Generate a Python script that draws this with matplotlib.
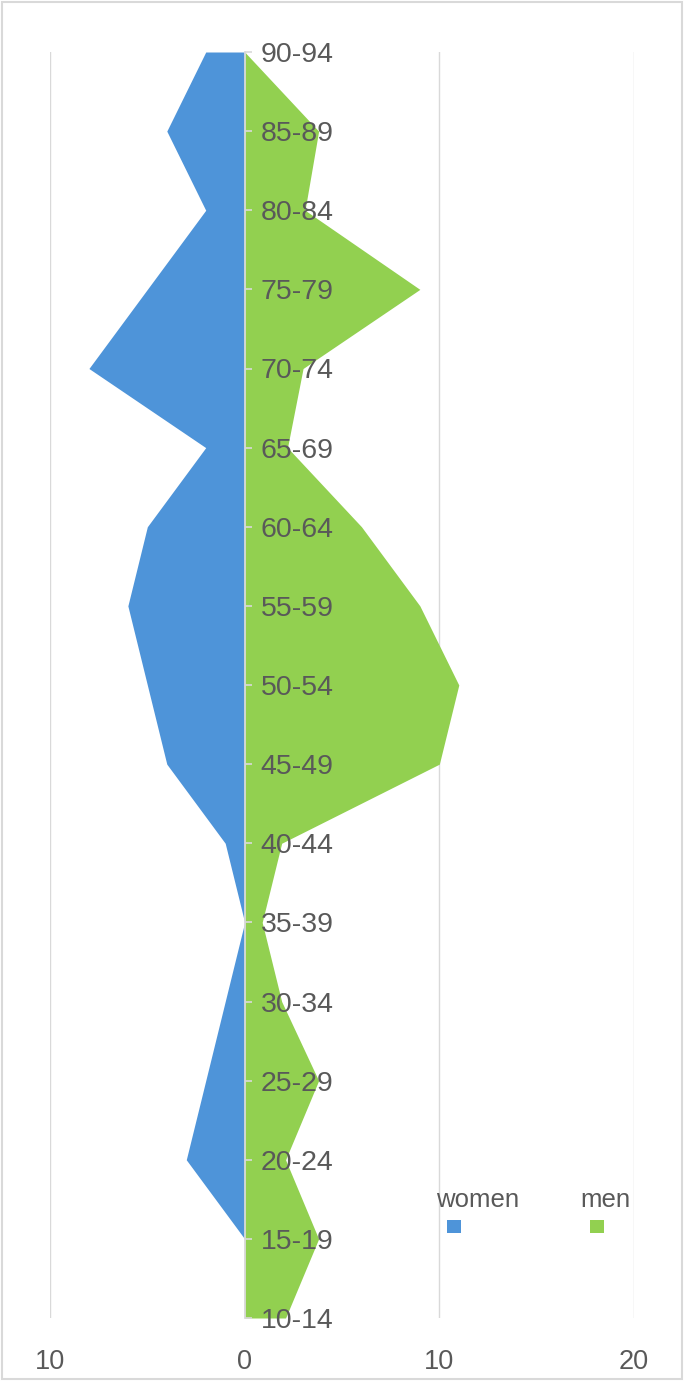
import numpy as np
import matplotlib
matplotlib.use('Agg')
import matplotlib.pyplot as plt
from matplotlib.patches import Rectangle
from matplotlib.ticker import FuncFormatter

plt.rcParams['font.family'] = ['Liberation Sans', 'DejaVu Sans']

# ---- data (bottom to top) ----
age_groups = ['10-14', '15-19', '20-24', '25-29', '30-34', '35-39', '40-44',
              '45-49', '50-54', '55-59', '60-64', '65-69', '70-74', '75-79',
              '80-84', '85-89', '90-94']
women = [0, 0, 3, 2, 1, 0, 1, 4, 5, 6, 5, 2, 8, 5, 2, 4, 2]
men = [2.1, 3.8, 2.1, 3.8, 1.9, 0.9, 1.9, 10, 11, 9, 6, 2.2, 3, 9, 3.1, 3.8, 0]
x_ticks = [-10, 0, 10, 20]

BLUE = '#4e94d9'
GREEN = '#92d050'
GRID = '#d9d9d9'
TEXT = '#595959'

W, H = 684, 1381
fig = plt.figure(figsize=(W / 100, H / 100), dpi=100)
ax = fig.add_axes([50 / W, 63 / H, 584 / W, 1266 / H])

# vertical gridlines, kept under the areas
for xv in x_ticks:
    ax.axvline(xv, color=GRID, linewidth=1.0, zorder=0)

y = np.arange(len(age_groups))
ax.fill_betweenx(y, -np.array(women), 0, color=BLUE, linewidth=0, zorder=1)
ax.fill_betweenx(y, 0, np.array(men), color=GREEN, linewidth=0, zorder=1)

ax.set_xlim(-10, 20)
ax.set_ylim(0, len(age_groups) - 1)

ax.set_xticks(x_ticks)
ax.xaxis.set_major_formatter(FuncFormatter(lambda v, p: f'{abs(int(v))}'))
ax.tick_params(axis='x', length=0, pad=22, labelsize=19.5, labelcolor=TEXT)

# category axis sitting at x = 0, labels to the right
for s in ['left', 'top', 'bottom']:
    ax.spines[s].set_visible(False)
ax.spines['right'].set_position(('data', 0))
ax.spines['right'].set_color(GRID)
ax.spines['right'].set_linewidth(1.3)
ax.yaxis.tick_right()
ax.set_yticks(y)
ax.set_yticklabels(age_groups)
ax.tick_params(axis='y', direction='out', length=5, width=1.2, color=GRID,
               pad=6.5, labelsize=20.5, labelcolor=TEXT)

# legend: label above a small square
legend_items = [('women', BLUE, 478, 454), ('men', GREEN, 605, 597)]
for label, col, tx, mx in legend_items:
    fig.text(tx / W, 1 - 1207 / H, label, ha='center', va='baseline',
             fontsize=18.5, color=TEXT)
    fig.add_artist(Rectangle(((mx - 7) / W, 1 - 1233 / H), 14 / W, 13 / H,
                             transform=fig.transFigure, facecolor=col,
                             edgecolor='none'))

# outer chart border
fig.add_artist(Rectangle((2 / W, 2 / H), (W - 4) / W, (H - 4) / H,
                         transform=fig.transFigure, facecolor='none',
                         edgecolor=GRID, linewidth=1.5))

fig.savefig('out.png', dpi=100, facecolor='white')
